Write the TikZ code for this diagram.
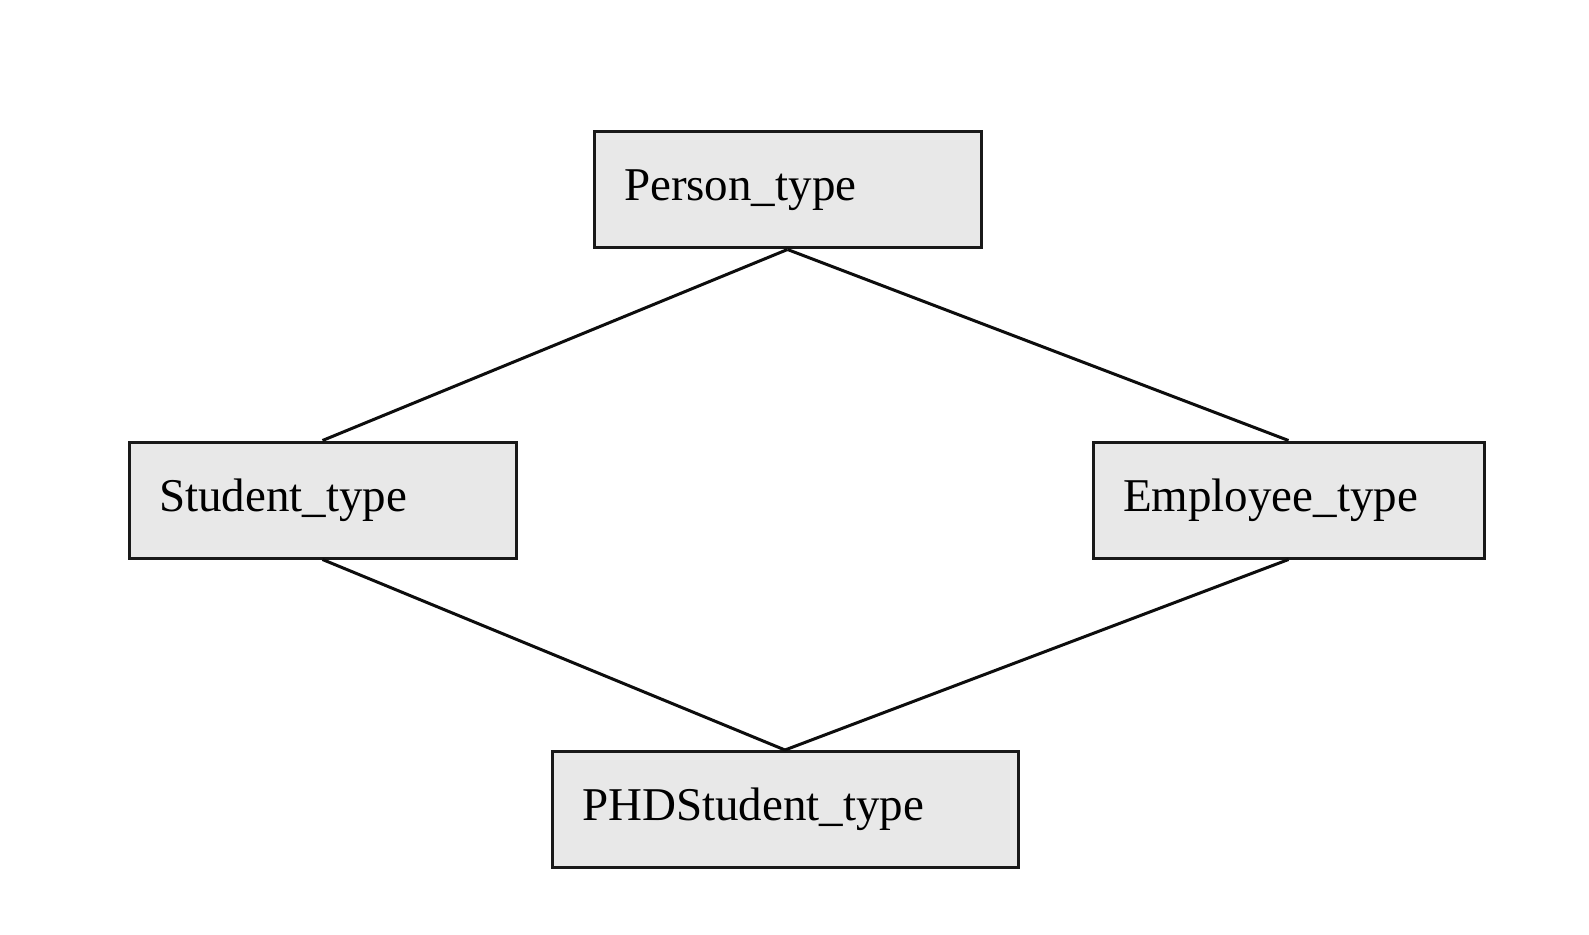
\documentclass[tikz,border=0pt]{standalone}
\usepackage{fontspec}
\setmainfont{Liberation Serif}
\begin{document}
\begin{tikzpicture}[x=0.5pt,y=-0.5pt,
  box/.style={draw=black!90, line width=1.5pt, fill=black!9, inner xsep=15pt, inner ysep=0pt,
    minimum height=58pt, align=left, font=\fontsize{23.5}{28}\selectfont, anchor=center},
  link/.style={draw=black!95, line width=1.5pt}]
\useasboundingbox[fill=white] (0,0) rectangle (1589,935);
\node[box, text width=163.5pt] (person) at (787.5,190) {Person\_type};
\node[box, text width=163.5pt] (student) at (322.5,500) {Student\_type};
\node[box, text width=165.5pt] (employee) at (1288.5,500) {Employee\_type};
\node[box, text width=203pt] (phd) at (785,809.5) {PHDStudent\_type};
\draw[link] (person.south) -- (student.north);
\draw[link] (person.south) -- (employee.north);
\draw[link] (student.south) -- (phd.north);
\draw[link] (employee.south) -- (phd.north);
\end{tikzpicture}
\end{document}
